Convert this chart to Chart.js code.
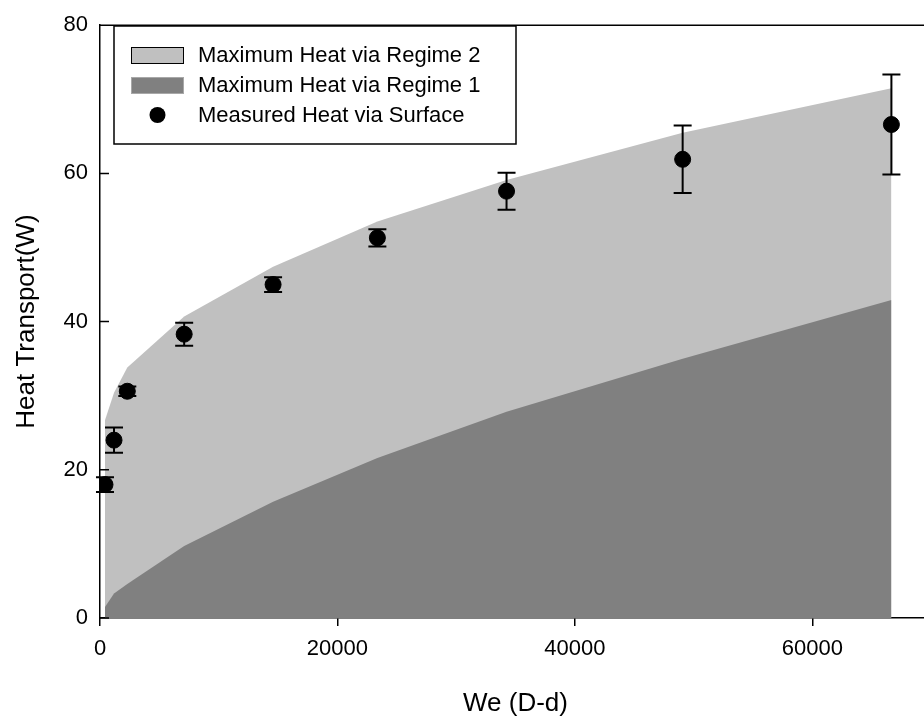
<!DOCTYPE html>
<html>
<head>
<meta charset="utf-8">
<script src="https://cdn.jsdelivr.net/npm/chart.js@4.4.2/dist/chart.umd.min.js"></script>
<style>
  html, body { margin: 0; padding: 0; overflow: hidden; background: #fff; }
  #wrap { width: 940px; height: 721px; }
</style>
</head>
<body>
<div id="wrap"><canvas id="heatChart"></canvas></div>
<script>
// We (D-d) at each measurement
const weValues = [420, 1180, 2300, 7090, 14580, 23365, 34245, 49080, 66665];
// measured heat transport through the surface (W) and its error
const measuredHeat = [18.0, 24.0, 30.6, 38.3, 45.0, 51.3, 57.6, 61.9, 66.6];
const measuredError = [1.0, 1.7, 0.65, 1.55, 1.0, 1.15, 2.5, 4.55, 6.75];
// theoretical maxima for the two regimes
const regime2Max = [26.7, 30.4, 33.8, 40.7, 47.4, 53.5, 59.1, 65.5, 71.5];
const regime1Max = [1.5, 3.3, 4.6, 9.7, 15.7, 21.6, 27.85, 35.0, 42.9];

const X_TICKS = [0, 20000, 40000, 60000];
const Y_TICKS = [0, 20, 40, 60, 80];

const LIGHT = '#c0c0c0';
const DARK = '#808080';
const FONT = "'Liberation Sans', Arial, Helvetica, sans-serif";

Chart.defaults.font.family = FONT;
Chart.defaults.color = '#000';

const toPoints = ys => weValues.map((x, i) => ({ x, y: ys[i] }));

// error bars for the measured series
const errorBars = {
  id: 'errorBars',
  afterDatasetsDraw(chart) {
    const { ctx, scales: { x, y } } = chart;
    ctx.save();
    ctx.strokeStyle = '#000';
    ctx.lineWidth = 2;
    weValues.forEach((we, i) => {
      const px = x.getPixelForValue(we);
      const top = y.getPixelForValue(measuredHeat[i] + measuredError[i]);
      const bot = y.getPixelForValue(measuredHeat[i] - measuredError[i]);
      ctx.beginPath();
      ctx.moveTo(px, top); ctx.lineTo(px, bot);
      ctx.moveTo(px - 9, top); ctx.lineTo(px + 9, top);
      ctx.moveTo(px - 9, bot); ctx.lineTo(px + 9, bot);
      ctx.stroke();
    });
    ctx.restore();
  }
};

// top frame line and inward ticks on the y axis
const frame = {
  id: 'frame',
  afterDraw(chart) {
    const { ctx, chartArea, scales: { y } } = chart;
    ctx.save();
    ctx.strokeStyle = '#000';
    ctx.lineWidth = 1.5;
    ctx.beginPath();
    ctx.moveTo(chartArea.left, chartArea.top);
    ctx.lineTo(chartArea.right, chartArea.top);
    y.ticks.forEach(t => {
      const py = y.getPixelForValue(t.value);
      ctx.moveTo(chartArea.left, py);
      ctx.lineTo(chartArea.left + 9, py);
    });
    ctx.stroke();
    ctx.restore();
  }
};

// boxed legend inside the plot
const boxLegend = {
  id: 'boxLegend',
  afterDraw(chart) {
    const { ctx } = chart;
    const sets = chart.data.datasets;
    ctx.save();
    ctx.fillStyle = '#fff';
    ctx.fillRect(114, 26, 402, 118);
    ctx.strokeStyle = '#000';
    ctx.lineWidth = 1.5;
    ctx.strokeRect(114, 26, 402, 118);

    const rows = [55, 85, 115];
    // regime 2 swatch
    ctx.fillStyle = LIGHT;
    ctx.fillRect(131, rows[0] - 8, 53, 17);
    ctx.lineWidth = 1;
    ctx.strokeStyle = '#000';
    ctx.strokeRect(131.5, rows[0] - 7.5, 52, 16);
    // regime 1 swatch
    ctx.fillStyle = DARK;
    ctx.fillRect(131, rows[1] - 8, 53, 17);
    ctx.strokeStyle = '#a8a8a8';
    ctx.strokeRect(131.5, rows[1] - 7.5, 52, 16);
    // measured marker
    ctx.fillStyle = '#000';
    ctx.beginPath();
    ctx.arc(157.5, rows[2], 8, 0, Math.PI * 2);
    ctx.fill();

    ctx.font = '22px ' + FONT;
    ctx.textBaseline = 'middle';
    ctx.textAlign = 'left';
    [sets[0].label, sets[1].label, sets[2].label].forEach((txt, i) => {
      ctx.fillText(txt, 198, rows[i] + 1);
    });
    ctx.restore();
  }
};

new Chart(document.getElementById('heatChart'), {
  type: 'scatter',
  data: {
    datasets: [
      {
        label: 'Maximum Heat via Regime 2',
        type: 'line',
        data: toPoints(regime2Max),
        fill: 'origin',
        backgroundColor: LIGHT,
        borderWidth: 0,
        pointRadius: 0,
        tension: 0,
        order: 3
      },
      {
        label: 'Maximum Heat via Regime 1',
        type: 'line',
        data: toPoints(regime1Max),
        fill: 'origin',
        backgroundColor: DARK,
        borderWidth: 0,
        pointRadius: 0,
        tension: 0,
        order: 2
      },
      {
        label: 'Measured Heat via Surface',
        data: toPoints(measuredHeat),
        backgroundColor: '#000',
        borderColor: '#000',
        pointRadius: 8,
        pointHoverRadius: 8,
        order: 1
      }
    ]
  },
  options: {
    responsive: true,
    maintainAspectRatio: false,
    animation: false,
    events: [],
    layout: { padding: { top: 16, right: 8, left: 0, bottom: 0 } },
    plugins: {
      legend: { display: false },
      tooltip: { enabled: false }
    },
    scales: {
      x: {
        type: 'linear',
        min: 0,
        max: 70000,
        afterBuildTicks: scale => {
          scale.ticks = X_TICKS.map(value => ({ value }));
        },
        afterFit: scale => { scale.height = 103; },
        border: { display: true, color: '#000', width: 1.5 },
        grid: {
          drawOnChartArea: false,
          drawTicks: true,
          tickLength: 8,
          color: '#000',
          lineWidth: 1.5
        },
        ticks: {
          font: { size: 22 },
          padding: 10,
          maxRotation: 0,
          callback: v => String(v)
        },
        title: {
          display: true,
          text: 'We (D-d)',
          font: { size: 26 },
          padding: { top: 0, bottom: 2 }
        }
      },
      y: {
        min: 0,
        max: 80,
        afterBuildTicks: scale => {
          scale.ticks = Y_TICKS.map(value => ({ value }));
        },
        afterFit: scale => { scale.width = 100; },
        border: { display: true, color: '#000', width: 1.5 },
        grid: {
          drawOnChartArea: false,
          drawTicks: false
        },
        ticks: {
          font: { size: 22 },
          padding: 12
        },
        title: {
          display: true,
          text: 'Heat Transport(W)',
          font: { size: 26 },
          padding: { top: 11, bottom: 0 }
        }
      }
    }
  },
  plugins: [errorBars, frame, boxLegend]
});
</script>
</body>
</html>
